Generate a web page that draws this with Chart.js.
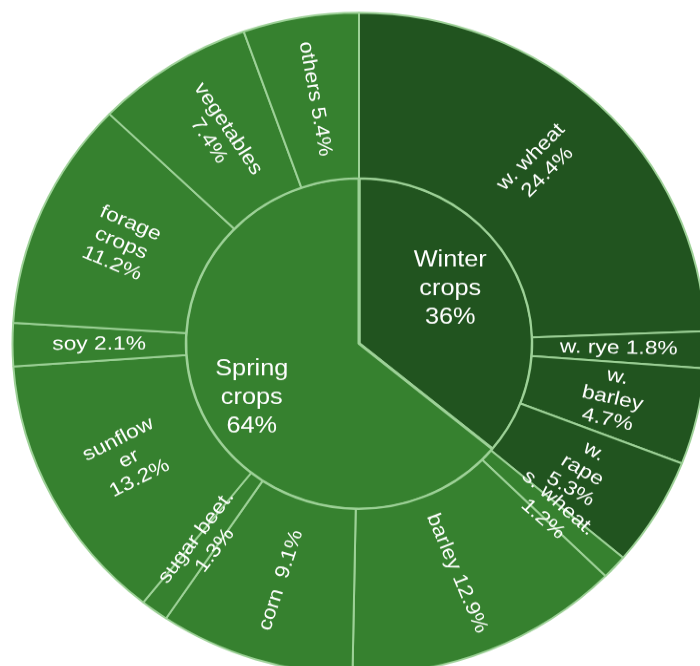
<!DOCTYPE html>
<html>
<head>
<meta charset="utf-8">
<script src="https://cdn.jsdelivr.net/npm/chart.js@4.4.1/dist/chart.umd.min.js"></script>
<style>
  html, body { margin: 0; padding: 0; background: #fff; overflow: hidden; }
  #wrap { width: 700px; height: 666px; overflow: hidden; }
  #sunburst { display: block; transform: scaleY(0.955); transform-origin: 0 0; }
</style>
</head>
<body>
<div id="wrap"><canvas id="sunburst" width="720" height="730"></canvas></div>
<script>
// inner ring: season totals
const seasons = ["Winter crops", "Spring crops"];
const seasonValues = [36, 64];

// outer ring: crops, clockwise from 12 o'clock
const crops = ["w. wheat", "w. rye", "w. barley", "w. rape", "s. wheat.", "barley", "corn ",
  "sugar beet.", "sunflower", "soy", "forage crops", "vegetables", "others"];
const cropValues = [24.4, 1.8, 4.7, 5.3, 1.2, 12.9, 9.1, 1.3, 13.2, 2.1, 11.2, 7.4, 5.4];
const cropSeason = [0, 0, 0, 0, 1, 1, 1, 1, 1, 1, 1, 1, 1];
// max characters per label line
const cropWrap = [8, 11, 6, 6, 9, 12, 10, 11, 7, 9, 6, 10, 11];

const fills = ["#21541f", "#36812f"];
const edge = "#9dd197";

function wrapText(text, max) {
  const lines = [];
  let cur = "";
  text.split(" ").forEach(w => {
    while (w.length > max) {
      if (cur) { lines.push(cur); cur = ""; }
      lines.push(w.slice(0, max));
      w = w.slice(max);
    }
    if (!cur) cur = w;
    else if ((cur + " " + w).length <= max) cur += " " + w;
    else { lines.push(cur); cur = w; }
  });
  if (cur) lines.push(cur);
  return lines;
}

const sliceLabels = {
  id: "sliceLabels",
  afterDatasetsDraw(chart) {
    const ctx = chart.ctx;
    ctx.save();
    ctx.fillStyle = "#ffffff";
    ctx.textAlign = "center";
    ctx.textBaseline = "middle";

    // outer ring, text laid along the radius
    chart.getDatasetMeta(0).data.forEach((arc, i) => {
      const p = arc.getProps(["x", "y", "startAngle", "endAngle", "innerRadius", "outerRadius"], true);
      const a = (p.startAngle + p.endAngle) / 2;
      const r = (p.innerRadius + p.outerRadius) / 2;
      const lines = wrapText(crops[i] + " " + cropValues[i].toFixed(1) + "%", cropWrap[i]);
      let rot = a;
      if (Math.cos(a) < 0) rot += Math.PI;
      ctx.save();
      ctx.translate(p.x + Math.cos(a) * r, p.y + Math.sin(a) * r);
      ctx.rotate(rot);
      ctx.scale(1.14, 1);
      ctx.font = "20px 'Liberation Sans', Arial, sans-serif";
      const lh = 23;
      lines.forEach((t, k) => ctx.fillText(t, 0, (k - (lines.length - 1) / 2) * lh));
      ctx.restore();
    });

    // inner pie, horizontal text
    chart.getDatasetMeta(1).data.forEach((arc, i) => {
      const p = arc.getProps(["x", "y", "startAngle", "endAngle", "outerRadius"], true);
      const a = (p.startAngle + p.endAngle) / 2 - 0.08;
      const r = p.outerRadius * 0.66;
      const lines = wrapText(seasons[i] + " " + seasonValues[i] + "%", 6);
      ctx.save();
      ctx.translate(p.x + Math.cos(a) * r - 8, p.y + Math.sin(a) * r);
      ctx.scale(1.1, 1);
      ctx.font = "23px 'Liberation Sans', Arial, sans-serif";
      const lh = 30;
      lines.forEach((t, k) => ctx.fillText(t, 0, (k - (lines.length - 1) / 2) * lh));
      ctx.restore();
    });
    ctx.restore();
  }
};

new Chart(document.getElementById("sunburst"), {
  type: "doughnut",
  data: {
    labels: crops,
    datasets: [
      {
        data: cropValues,
        backgroundColor: cropSeason.map(s => fills[s]),
        borderColor: edge,
        borderWidth: 2,
        hoverOffset: 0
      },
      {
        data: seasonValues,
        backgroundColor: fills,
        borderColor: edge,
        borderWidth: 3,
        hoverOffset: 0
      }
    ]
  },
  options: {
    responsive: false,
    animation: false,
    cutout: 0,
    layout: { padding: { left: 11.5, right: 13.5, top: 12.2, bottom: 22.8 } },
    plugins: { legend: { display: false }, tooltip: { enabled: false } }
  },
  plugins: [sliceLabels]
});
</script>
</body>
</html>
